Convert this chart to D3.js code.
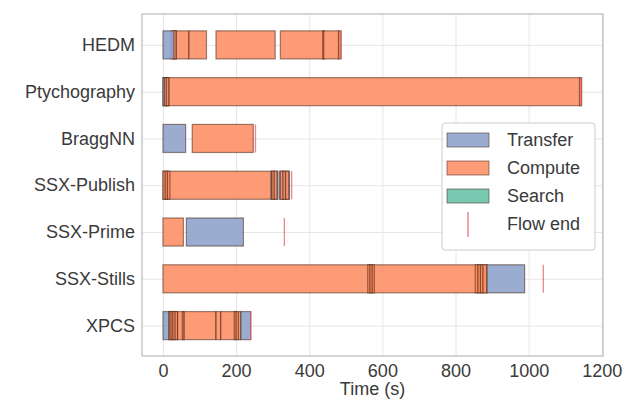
<!DOCTYPE html>
<html>
<head>
<meta charset="utf-8">
<script src="https://cdn.jsdelivr.net/npm/d3@7"></script>
<style>
  body { margin: 0; background: #fff; }
  svg { font-family: "Liberation Sans", Arial, sans-serif; }
</style>
</head>
<body>
<div id="chart"></div>
<script>
// workflow names, top to bottom
const workflows = ['HEDM', 'Ptychography', 'BraggNN', 'SSX-Publish', 'SSX-Prime', 'SSX-Stills', 'XPCS'];
const kinds = ['Transfer', 'Compute', 'Search'];
const kindColors = ['#8da0cb', '#fc8d62', '#66c2a5'];

// task segments per workflow: [kind, start (s), end (s)]
// short tasks packed close together show up as dark strips
const hedmTasks = [['Compute', 22, 71], ['Transfer', 0, 36], ['Compute', 30, 36], ['Compute', 71, 119], ['Compute', 145, 307],
    ['Compute', 321, 439], ['Compute', 437, 442], ['Compute', 439, 482], ['Compute', 480, 487]];
const ptychoTasks = [['Compute', 0, 1142], ['Transfer', 0, 16], ['Compute', 4, 10], ['Compute', 9, 16], ['Compute', 1139, 1145]];
const braggTasks = [['Transfer', 0, 62], ['Compute', 80, 247]];
const publishTasks = [['Compute', 0, 296], ['Compute', 0, 7], ['Compute', 6, 13], ['Compute', 12, 19],
    ['Transfer', 296, 314], ['Compute', 298, 305], ['Compute', 304, 312],
    ['Transfer', 318, 346], ['Compute', 321, 329], ['Compute', 328, 336], ['Compute', 335, 344]];
const primeTasks = [['Compute', 0, 56], ['Transfer', 64, 220]];
const stillsTasks = [['Compute', 0, 886], ['Compute', 560, 567], ['Compute', 566, 573], ['Compute', 572, 578],
    ['Compute', 854, 862], ['Compute', 861, 869], ['Compute', 868, 876], ['Compute', 875, 886], ['Transfer', 886, 989]];
const xpcsTasks = [['Transfer', 0, 17], ['Compute', 17, 40], ['Compute', 17, 23], ['Compute', 22, 28], ['Compute', 27, 34], ['Compute', 33, 40],
    ['Compute', 40, 56], ['Compute', 53, 58], ['Compute', 58, 145], ['Compute', 145, 158], ['Compute', 158, 200],
    ['Compute', 195, 201], ['Compute', 200, 207], ['Compute', 206, 213], ['Transfer', 213, 240]];
const tasksByFlow = [hedmTasks, ptychoTasks, braggTasks, publishTasks, primeTasks, stillsTasks, xpcsTasks];

// end of each flow (s)
const flowEnd = [487, 1144, 253, 352, 332, 1040, 240];

const xTicks = [0, 200, 400, 600, 800, 1000, 1200];

const width = 624, height = 400;
const plot = { left: 142, right: 603, top: 14, bottom: 356 };

const svg = d3.select('#chart').append('svg')
    .attr('width', width)
    .attr('height', height);

const x = d3.scaleLinear().domain([-57.3, 1203.3]).range([plot.left, plot.right]);
const y = d3.scaleLinear().domain([-0.66, 6.65]).range([plot.top, plot.bottom]);
const barH = y(0.6) - y(0);

// grid
svg.append('g')
    .attr('transform', `translate(0,${plot.bottom})`)
    .call(d3.axisBottom(x).tickValues(xTicks).tickSize(-(plot.bottom - plot.top)).tickFormat(''))
    .call(g => g.select('.domain').remove())
    .call(g => g.selectAll('line').attr('stroke', '#e6e6e6').attr('stroke-width', 1));

svg.append('g')
    .attr('transform', `translate(${plot.left},0)`)
    .call(d3.axisLeft(y).tickValues(d3.range(workflows.length)).tickSize(-(plot.right - plot.left)).tickFormat(''))
    .call(g => g.select('.domain').remove())
    .call(g => g.selectAll('line').attr('stroke', '#e6e6e6').attr('stroke-width', 1));

// bars
const rows = svg.append('g').selectAll('g')
    .data(tasksByFlow)
    .join('g');

rows.each(function (tasks, i) {
    d3.select(this).selectAll('rect')
        .data(tasks)
        .join('rect')
        .attr('x', d => x(d[1]))
        .attr('width', d => x(d[2]) - x(d[1]))
        .attr('y', y(i) - barH / 2)
        .attr('height', barH)
        .attr('fill', d => kindColors[kinds.indexOf(d[0])])
        .attr('fill-opacity', 0.88)
        .attr('stroke', '#3b1a0c')
        .attr('stroke-opacity', 0.5)
        .attr('stroke-width', 1.2);
});

// flow end markers
svg.append('g').selectAll('line')
    .data(flowEnd)
    .join('line')
    .attr('x1', d => x(d))
    .attr('x2', d => x(d))
    .attr('y1', (d, i) => y(i) - barH / 2)
    .attr('y2', (d, i) => y(i) + barH / 2)
    .attr('stroke', '#e8505b')
    .attr('stroke-opacity', 0.7)
    .attr('stroke-width', 1.3);

// frame
svg.append('rect')
    .attr('x', plot.left).attr('y', plot.top)
    .attr('width', plot.right - plot.left)
    .attr('height', plot.bottom - plot.top)
    .attr('fill', 'none')
    .attr('stroke', '#bdbdbd')
    .attr('stroke-width', 1.25);

// axes labels
svg.append('g')
    .attr('transform', `translate(0,${plot.bottom})`)
    .call(d3.axisBottom(x).tickValues(xTicks).tickFormat(d3.format('d')).tickSize(0).tickPadding(8))
    .call(g => g.select('.domain').remove())
    .call(g => g.selectAll('text').attr('font-size', 18).attr('fill', '#3a3a3a').attr('font-family', 'Liberation Sans, Arial, sans-serif'));

svg.append('g')
    .attr('transform', `translate(${plot.left},0)`)
    .call(d3.axisLeft(y).tickValues(d3.range(workflows.length)).tickFormat(i => workflows[i]).tickSize(0).tickPadding(7))
    .call(g => g.select('.domain').remove())
    .call(g => g.selectAll('text').attr('font-size', 18).attr('fill', '#3a3a3a').attr('font-family', 'Liberation Sans, Arial, sans-serif'));

svg.append('text')
    .attr('x', (plot.left + plot.right) / 2)
    .attr('y', 395)
    .attr('text-anchor', 'middle')
    .attr('font-size', 18)
    .attr('fill', '#3a3a3a')
    .text('Time (s)');

// legend
const legend = svg.append('g').attr('transform', 'translate(442,123)');
legend.append('rect')
    .attr('width', 153).attr('height', 127)
    .attr('rx', 3)
    .attr('fill', '#fff').attr('fill-opacity', 0.85)
    .attr('stroke', '#cccccc');

const legendItems = kinds.concat(['Flow end']);
const item = legend.selectAll('g.item')
    .data(legendItems)
    .join('g')
    .attr('class', 'item')
    .attr('transform', (d, i) => `translate(0,${17 + i * 28})`);

item.filter((d, i) => i < 3).append('rect')
    .attr('x', 5).attr('y', -7)
    .attr('width', 42).attr('height', 14)
    .attr('fill', (d, i) => kindColors[i])
    .attr('fill-opacity', 0.88)
    .attr('stroke', '#3b1a0c').attr('stroke-opacity', 0.5);

item.filter(d => d === 'Flow end').append('line')
    .attr('x1', 26).attr('x2', 26)
    .attr('y1', -12).attr('y2', 13)
    .attr('stroke', '#e8505b').attr('stroke-opacity', 0.8)
    .attr('stroke-width', 1.3);

item.append('text')
    .attr('x', 65)
    .attr('dy', '0.35em')
    .attr('font-size', 18)
    .attr('fill', '#3a3a3a')
    .text(d => d);
</script>
</body>
</html>
